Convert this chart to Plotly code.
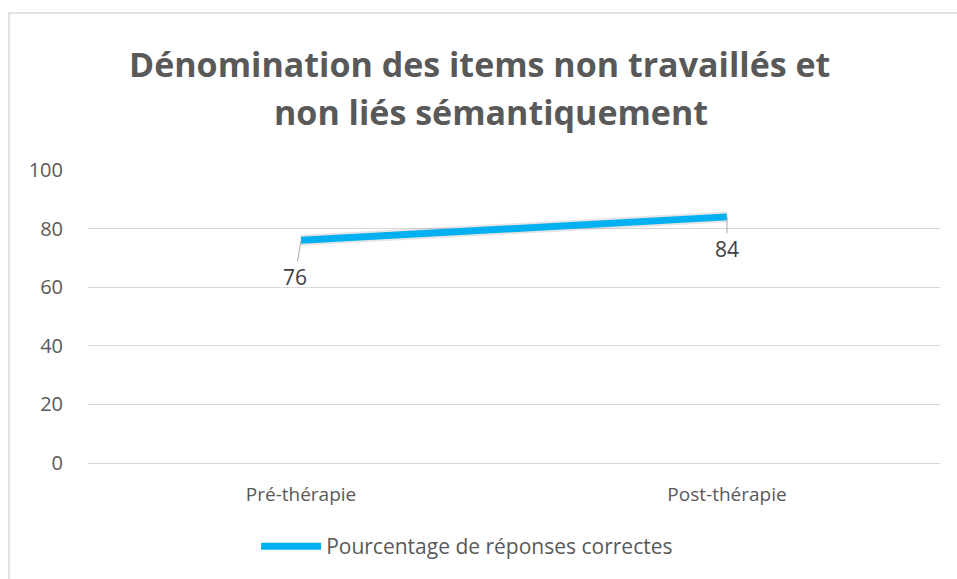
import plotly.graph_objects as go

# data
categories = ["Pré-thérapie", "Post-thérapie"]
values = [76, 84]
series_name = "Pourcentage de réponses correctes"
y_ticks = [0, 20, 40, 60, 80, 100]
title_lines = ["Dénomination des items non travaillés et", "non liés sémantiquement"]

grey_txt = "#595959"
grid = "#d9d9d9"
blue = "#00b0f0"

fig = go.Figure()

# line (soft shadow underneath, then the blue line)
fig.add_trace(go.Scatter(
    x=categories, y=values, mode="lines",
    line=dict(color="rgba(0,0,0,0.10)", width=11),
    hoverinfo="skip", showlegend=False))
fig.add_trace(go.Scatter(
    x=categories, y=values, mode="lines",
    line=dict(color=blue, width=7),
    name=series_name))

# data labels with leader lines
offsets = [(-6, 37), (0, 32)]
for cat, val, (ax, ay) in zip(categories, values, offsets):
    fig.add_annotation(
        x=cat, y=val, text=str(val),
        showarrow=True, arrowhead=0, arrowwidth=1, arrowcolor="#a6a6a6",
        ax=ax, ay=ay, standoff=0,
        font=dict(size=21, color="#404040", family="Open Sans"))

# title, two lines
for txt, yy, xx in zip(title_lines, [1.3627, 1.199], [0.459, 0.473]):
    fig.add_annotation(
        x=xx, y=yy, xref="paper", yref="paper", text="<b>" + txt + "</b>",
        showarrow=False, xanchor="center", yanchor="middle",
        font=dict(size=34, color=grey_txt, family="Open Sans"))

# chart border (left/top visible)
fig.add_shape(type="rect", xref="paper", yref="paper",
              x0=-0.0927, x1=1.05, y0=-0.5, y1=1.5356,
              line=dict(color=grid, width=1.5), layer="below")

fig.update_layout(
    width=957, height=579,
    margin=dict(l=88, r=17, t=170, b=114),
    paper_bgcolor="white", plot_bgcolor="white",
    font=dict(family="Open Sans", color=grey_txt, size=15),
    showlegend=True,
    legend=dict(orientation="h", x=0.445, xanchor="center", y=-0.285, yanchor="middle",
                font=dict(size=21, color=grey_txt), itemwidth=60),
    xaxis=dict(showgrid=False, showline=False, ticks="", zeroline=False,
               range=[-0.5, 1.5], ticklabelstandoff=18,
               tickfont=dict(size=19, color=grey_txt)),
    yaxis=dict(range=[0, 100], tickvals=y_ticks, showgrid=True, gridcolor=grid,
               gridwidth=1, zeroline=True, zerolinecolor=grid, zerolinewidth=1,
               showline=False, ticks="", ticklabelstandoff=24,
               tickfont=dict(size=20, color=grey_txt)),
)

fig.write_html("out.html", config={"displayModeBar": False},
               post_script="document.body.style.margin='0';")
